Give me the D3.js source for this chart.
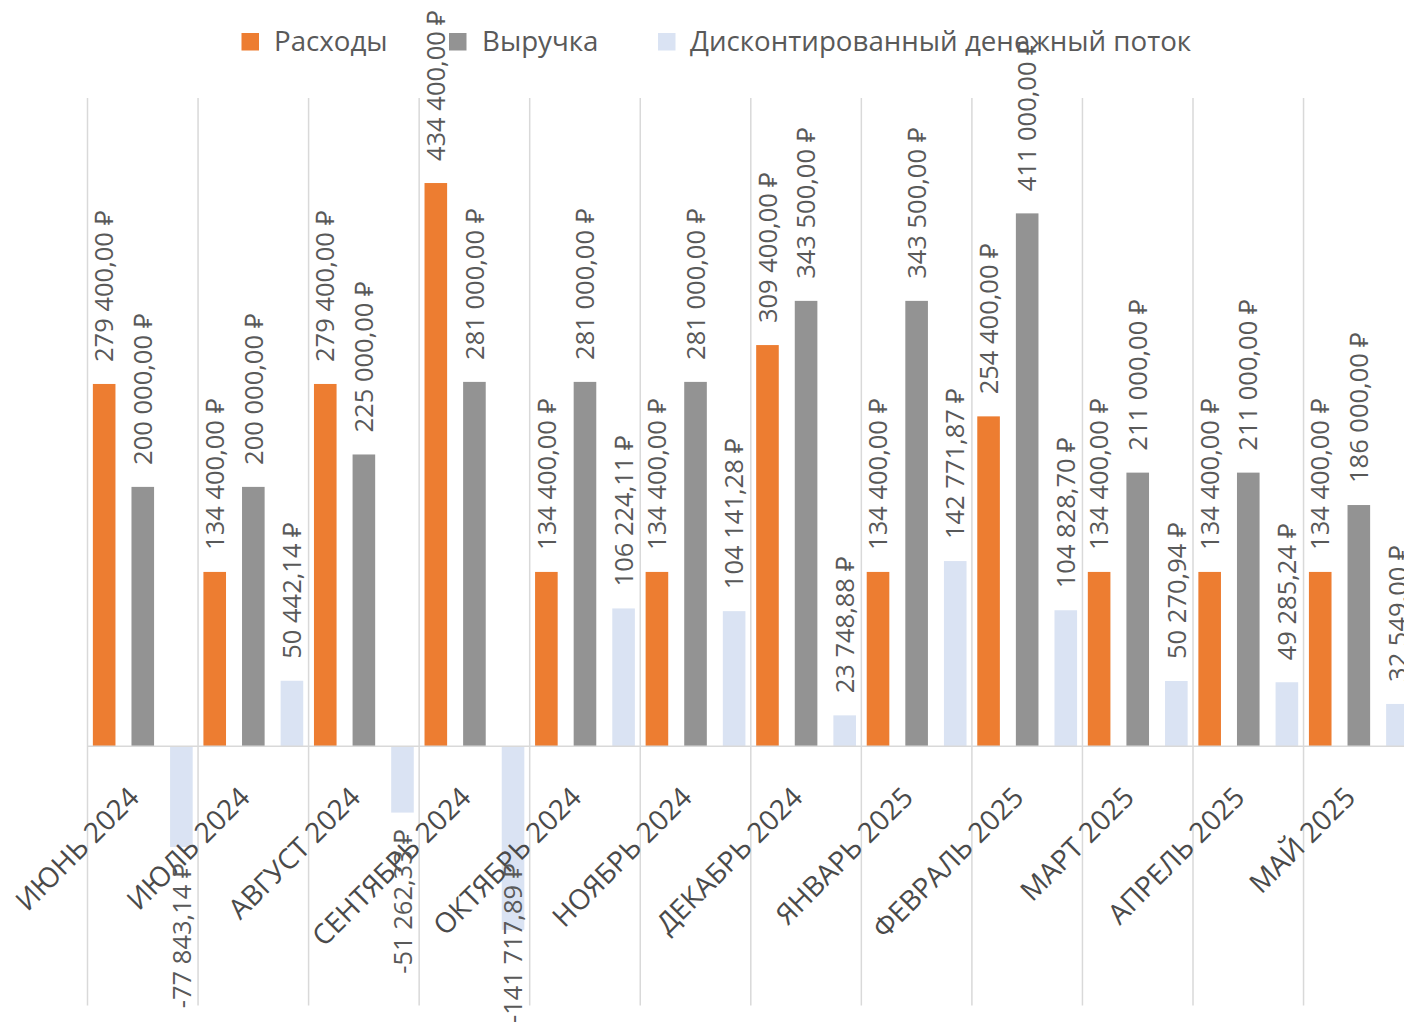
<!DOCTYPE html>
<html><head><meta charset="utf-8">
<script src="https://cdn.jsdelivr.net/npm/d3@7"></script>
<style>html,body{margin:0;padding:0;background:#fff;overflow:hidden}</style>
</head><body>
<svg id="chart" width="1404" height="1024"></svg>
<script>
const categories = ["ИЮНЬ 2024","ИЮЛЬ 2024","АВГУСТ 2024","СЕНТЯБРЬ 2024","ОКТЯБРЬ 2024","НОЯБРЬ 2024","ДЕКАБРЬ 2024","ЯНВАРЬ 2025","ФЕВРАЛЬ 2025","МАРТ 2025","АПРЕЛЬ 2025","МАЙ 2025"];
const seriesNames = ["Расходы","Выручка","Дисконтированный денежный поток"];
const expenses = [279400,134400,279400,434400,134400,134400,309400,134400,254400,134400,134400,134400];
const revenue = [200000,200000,225000,281000,281000,281000,343500,343500,411000,211000,211000,186000];
const discountedFlow = [-77843.14,50442.14,-51262.33,-141717.89,106224.11,104141.28,23748.88,142771.87,104828.70,50270.94,49285.24,32549.00];
const colors = ["#ED7D31","#939393","#DAE3F3"];

const seriesValues = [expenses, revenue, discountedFlow];
const FONT = "'Open Sans', sans-serif";
const svg = d3.select("#chart");

const catW = 110.55, x0 = 87.5;
const x = d3.scaleBand().domain(categories).range([x0, x0 + catW*categories.length]).padding(0);
const xs = d3.scaleBand().domain(d3.range(3)).range([0, x.bandwidth()]).paddingInner(0.4145).paddingOuter(0.139);
const y = d3.scaleLinear().domain([-200000, 500000]).range([1005.4, 98]);

const loc = d3.formatLocale({decimal:",", thousands:"\u00a0", grouping:[3], currency:["",""], minus:"-"});
const fmt = v => loc.format(",.2f")(v) + " ₽";

// gridlines at category boundaries
const bounds = d3.range(categories.length + 1).map(i => x0 + i*catW);
svg.append("g").selectAll("line").data(bounds).join("line")
  .attr("x1", d => d).attr("x2", d => d)
  .attr("y1", y(500000)).attr("y2", y(-200000))
  .attr("stroke", "#d9d9d9").attr("stroke-width", 1.5);

// bars
const rows = [];
categories.forEach((c, i) => seriesValues.forEach((arr, s) => rows.push({c, s, v: arr[i]})));
svg.append("g").selectAll("rect").data(rows).join("rect")
  .attr("x", d => x(d.c) + xs(d.s))
  .attr("width", xs.bandwidth())
  .attr("y", d => y(Math.max(0, d.v)))
  .attr("height", d => Math.abs(y(d.v) - y(0)))
  .attr("fill", d => colors[d.s]);

// zero line
svg.append("line").attr("x1", x0).attr("x2", x0 + catW*categories.length)
  .attr("y1", y(0)).attr("y2", y(0)).attr("stroke", "#d9d9d9").attr("stroke-width", 1.5);

// x-axis labels
svg.append("g").selectAll("text").data(categories).join("text")
  .attr("transform", d => `translate(${x(d) + x.bandwidth()/2 - 9},792) rotate(-45)`)
  .attr("text-anchor", "end").attr("dy", "0.36em")
  .attr("font-family", FONT).attr("font-size", 28).attr("fill", "#4a4a4a")
  .text(d => d);

// data labels
svg.append("g").selectAll("text").data(rows).join("text")
  .attr("text-anchor", "start")
  .attr("dy", "0.36em")
  .attr("font-family", FONT).attr("font-size", 25.5).attr("fill", "#595959")
  .text(d => fmt(d.v))
  .attr("transform", function(d) {
    const cx = x(d.c) + xs(d.s) + xs.bandwidth()/2;
    const len = this.getComputedTextLength();
    const yy = d.v >= 0 ? y(d.v) - 22 : Math.min(y(d.v) + 16 + len, 1023);
    return `translate(${cx},${yy}) rotate(-90)`;
  });

// legend
const legX = [241.5, 449, 658], legT = [274, 482, 690];
const leg = svg.append("g");
seriesNames.forEach((n, i) => {
  leg.append("rect").attr("x", legX[i]).attr("y", 33).attr("width", 17.5).attr("height", 17.5).attr("fill", colors[i]);
  leg.append("text").attr("x", legT[i]).attr("y", 41.5).attr("dy", "0.36em")
    .attr("font-family", FONT).attr("font-size", 27.7).attr("fill", "#595959").text(n);
});
</script>
</body></html>
